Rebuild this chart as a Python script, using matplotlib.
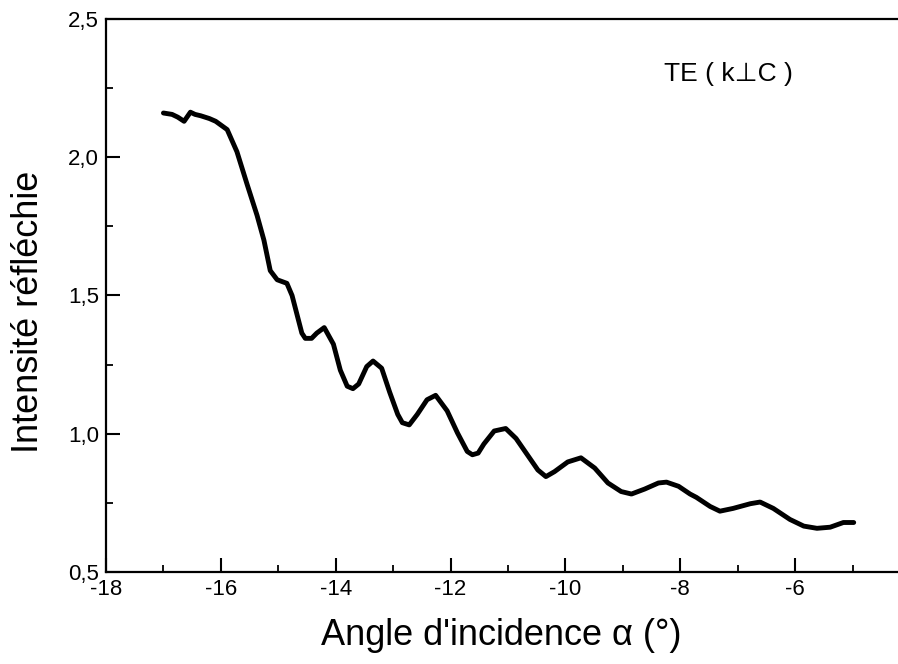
import matplotlib
matplotlib.use("Agg")
import matplotlib.pyplot as plt
from matplotlib.ticker import MultipleLocator, FuncFormatter

angle = [-17.00, -16.85, -16.75, -16.64, -16.53, -16.45, -16.35, -16.20, -16.09,
         -15.89, -15.72, -15.54, -15.37, -15.25, -15.14, -15.02, -14.85, -14.76,
         -14.59, -14.53, -14.42, -14.33, -14.20, -14.04, -13.92, -13.80, -13.70,
         -13.60, -13.46, -13.35, -13.20, -13.06, -12.92, -12.84, -12.72, -12.58,
         -12.41, -12.26, -12.06, -11.88, -11.71, -11.62, -11.52, -11.42, -11.24,
         -11.04, -10.86, -10.66, -10.48, -10.34, -10.19, -9.96, -9.73, -9.49,
         -9.26, -9.03, -8.85, -8.62, -8.38, -8.24, -8.03, -7.83, -7.72, -7.48,
         -7.31, -7.08, -6.78, -6.61, -6.38, -6.09, -5.85, -5.62, -5.39, -5.16,
         -4.98]
intensity = [2.160, 2.155, 2.145, 2.130, 2.163, 2.155, 2.150, 2.140, 2.130,
             2.100, 2.020, 1.900, 1.790, 1.700, 1.590, 1.557, 1.544, 1.500,
             1.364, 1.345, 1.345, 1.364, 1.384, 1.324, 1.230, 1.172, 1.163,
             1.180, 1.243, 1.263, 1.237, 1.150, 1.070, 1.040, 1.032, 1.070,
             1.123, 1.139, 1.083, 1.003, 0.936, 0.924, 0.930, 0.963, 1.010,
             1.019, 0.983, 0.923, 0.869, 0.845, 0.863, 0.898, 0.913, 0.876,
             0.822, 0.791, 0.782, 0.800, 0.822, 0.825, 0.810, 0.782, 0.770, 0.737,
             0.720, 0.730, 0.747, 0.753, 0.730, 0.690, 0.666, 0.658, 0.662, 0.679,
             0.679]

xticks = [-18, -16, -14, -12, -10, -8, -6]
yticks = [0.5, 1.0, 1.5, 2.0, 2.5]

plt.rcParams['font.family'] = ['Liberation Sans', 'DejaVu Sans']

fig = plt.figure(figsize=(8.98, 6.64), dpi=100)
ax = fig.add_axes([106/898, 92/664, 804/898, 553/664])

ax.plot(angle, intensity, color='black', linewidth=3.5, solid_capstyle='round',
        solid_joinstyle='round')

ax.set_xlim(-18, -4)
ax.set_ylim(0.5, 2.5)
ax.set_xticks(xticks)
ax.set_yticks(yticks)
ax.xaxis.set_minor_locator(MultipleLocator(1))
ax.yaxis.set_minor_locator(MultipleLocator(0.25))
ax.yaxis.set_major_formatter(FuncFormatter(lambda v, p: f"{v:.1f}".replace('.', ',')))
ax.xaxis.set_major_formatter(FuncFormatter(lambda v, p: f"{int(v)}"))

ax.tick_params(which='major', direction='in', length=10, width=1.5, labelsize=16,
               top=False, right=False, pad=5)
ax.tick_params(which='minor', direction='in', length=5, width=1.3,
               top=False, right=False)
for s in ax.spines.values():
    s.set_linewidth(1.6)

ax.set_xlabel("Angle d'incidence α (°)", fontsize=26)
ax.set_ylabel("Intensité réfléchie", fontsize=26)
ax.xaxis.set_label_coords(0.492, -0.083)
ax.yaxis.set_label_coords(-0.075, 0.47)

ax.text(-8.28, 2.30, "TE ( k⊥C )", fontsize=19, ha='left', va='center')

fig.savefig("out.png", dpi=100)
